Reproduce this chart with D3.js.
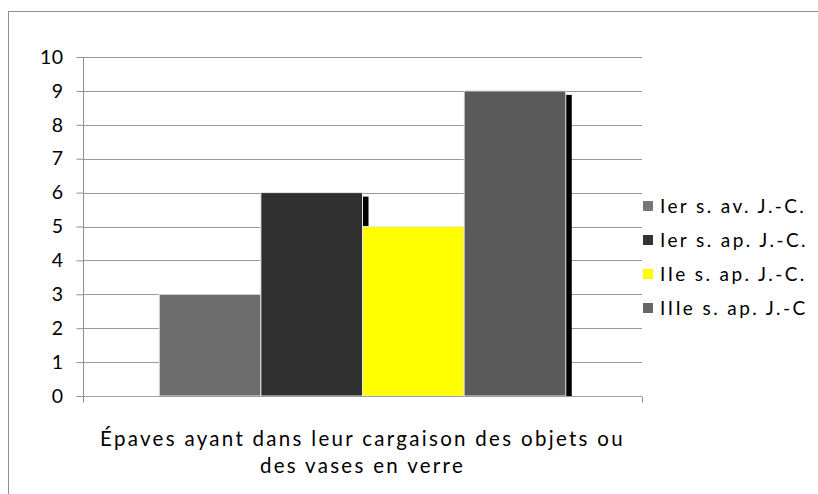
<!DOCTYPE html>
<html><head><meta charset="utf-8">
<script src="https://cdn.jsdelivr.net/npm/d3@7"></script>
<style>
html,body{margin:0;padding:0;background:#fff;}
svg{display:block;}
text{font-family:Lato,"Open Sans",sans-serif;fill:#000;}
</style></head>
<body>
<svg id="c" width="818" height="494"></svg>
<script>
const categoryLines = ["Épaves ayant dans leur cargaison des objets ou", "des vases en verre"];
const seriesNames = ["Ier s. av. J.-C.", "Ier s. ap. J.-C.", "IIe s. ap. J.-C.", "IIIe s. ap. J.-C"];
const seriesValues = [3, 6, 5, 9];
const barColors = ["#6d6d6d", "#2f2f2f", "#ffff00", "#5a5a5a"];
const legendColors = ["#777777", "#333333", "#ffff00", "#666666"];
const yTicks = [0,1,2,3,4,5,6,7,8,9,10];

(function () {
const svg = d3.select("#c");

// outer frame
svg.append("rect").attr("x", 8.5).attr("y", 11.5).attr("width", 830).attr("height", 500)
  .attr("fill", "none").attr("stroke", "#8f8f8f").attr("stroke-width", 1);

const pL = 83, pR = 642, pT = 57, pB = 396;
const y = d3.scaleLinear().domain([0, 10]).range([pB, pT]);
// group band: bars occupy 4/5.5 of plot width (gap width 150%)
const groupW = (pR - pL) * 4 / 5.5;
const gx = pL + ((pR - pL) - groupW) / 2;
const x1 = d3.scaleBand().domain(seriesNames).range([gx, gx + groupW]).padding(0);

// gridlines
svg.append("g").selectAll("line").data(yTicks.filter(d => d > 0)).join("line")
  .attr("x1", pL).attr("x2", pR)
  .attr("y1", d => Math.round(y(d)) + 0.5).attr("y2", d => Math.round(y(d)) + 0.5)
  .attr("stroke", "#999999").attr("stroke-width", 1);

// shadows
const dx = 6, dy = 4;
svg.append("g").selectAll("rect").data(seriesValues).join("rect")
  .attr("x", (d, i) => x1(seriesNames[i]) + dx)
  .attr("y", d => y(d) + dy)
  .attr("width", x1.bandwidth())
  .attr("height", d => pB - (y(d) + dy))
  .attr("fill", "#000");

// bars
svg.append("g").selectAll("rect").data(seriesValues).join("rect")
  .attr("x", (d, i) => x1(seriesNames[i]))
  .attr("y", d => y(d))
  .attr("width", x1.bandwidth())
  .attr("height", d => pB - y(d))
  .attr("fill", (d, i) => barColors[i])
  .attr("stroke", "#e8e8e8").attr("stroke-width", 1);

// y axis
const yAxis = d3.axisLeft(y).tickValues(yTicks).tickSize(7).tickPadding(13).tickFormat(d3.format("d"));
const ga = svg.append("g").attr("transform", `translate(${pL + 0.5},0)`).call(yAxis);
ga.select(".domain").attr("stroke", "#8f8f8f").attr("d", `M0,${pT}V${pB}`);
ga.selectAll(".tick line").attr("stroke", "#8f8f8f");
ga.selectAll(".tick text").attr("font-size", 19.5).attr("letter-spacing", 0.5)
  .attr("font-family", "Lato, 'Open Sans', sans-serif").attr("fill", "#000");

// x axis baseline
const xAxisScale = d3.scaleLinear().domain([0, 1]).range([pL, pR]);
const gxAxis = svg.append("g").attr("transform", `translate(0,${pB + 0.5})`)
  .call(d3.axisBottom(xAxisScale).tickValues([0, 1]).tickSize(6).tickFormat(""));
gxAxis.select(".domain").attr("stroke", "#a0a0a0").attr("d", `M${pL},0H${pR}`);
gxAxis.selectAll(".tick line").attr("stroke", "#8f8f8f");

// category label
const cx = (pL + pR) / 2;
svg.append("g").selectAll("text").data(categoryLines).join("text")
  .attr("x", cx).attr("y", (d, i) => 446 + i * 27)
  .attr("text-anchor", "middle").attr("font-size", 20.5)
  .attr("letter-spacing", 2.3)
  .text(d => d);

// legend
const lg = svg.append("g").selectAll("g").data(seriesNames).join("g")
  .attr("transform", (d, i) => `translate(643,${201 + i * 34})`);
lg.append("rect").attr("x", 0).attr("y", 0).attr("width", 10).attr("height", 10)
  .attr("fill", (d, i) => legendColors[i]);
lg.append("text").attr("x", 17).attr("y", 12).attr("font-size", 19)
  .attr("letter-spacing", 2.4)
  .text(d => d);
})();
</script>
</body></html>
